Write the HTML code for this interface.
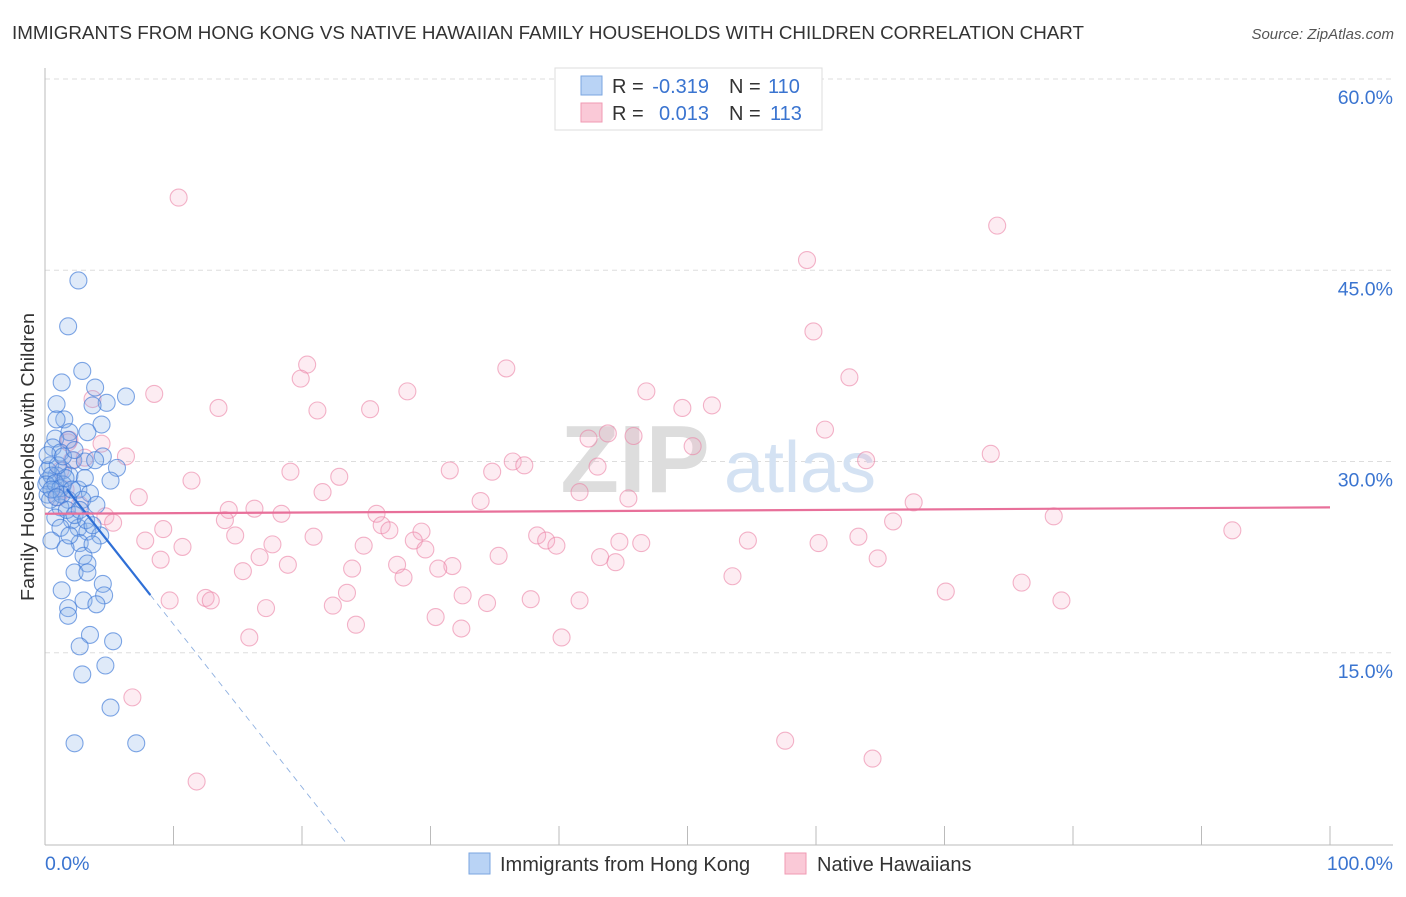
<!DOCTYPE html>
<html><head><meta charset="utf-8">
<style>
body{margin:0;background:#fff;font-family:"Liberation Sans",sans-serif;}
svg text{font-family:"Liberation Sans",sans-serif;}
</style></head><body>
<svg id="chart" width="1406" height="892" xmlns="http://www.w3.org/2000/svg">
<text x="12" y="39" font-size="18.7" fill="#333" textLength="1072" lengthAdjust="spacingAndGlyphs">IMMIGRANTS FROM HONG KONG VS NATIVE HAWAIIAN FAMILY HOUSEHOLDS WITH CHILDREN CORRELATION CHART</text>
<text x="1394" y="39" font-size="15" fill="#555" text-anchor="end" font-style="italic">Source: ZipAtlas.com</text>
<g id="grid"></g>
<g>
<text x="635" y="492" font-size="96" fill="#ddd" text-anchor="middle" font-family="Liberation Serif" font-weight="bold">ZIP</text>
<text x="800" y="492" font-size="72" fill="#d4e2f3" text-anchor="middle">atlas</text>
</g>
<g id="axes"></g>
<g id="pink"></g>
<g id="blue"></g>
<g id="trends"></g>
<text transform="translate(34,457) rotate(-90)" font-size="18" fill="#333" text-anchor="middle" textLength="288" lengthAdjust="spacingAndGlyphs">Family Households with Children</text>
<g>
<rect x="555" y="68" width="267" height="62" fill="#fff" stroke="#ddd"/>
<rect x="581" y="76" width="21" height="19" fill="#b9d3f5" stroke="#7aa6e0"/>
<rect x="581" y="103" width="21" height="19" fill="#fac9d7" stroke="#f09ab3"/>
<text x="612" y="93" font-size="20" fill="#333">R =</text>
<text x="709" y="93" font-size="20" fill="#3a74d0" text-anchor="end">-0.319</text>
<text x="729" y="93" font-size="20" fill="#333">N =</text>
<text x="768" y="93" font-size="20" fill="#3a74d0">110</text>
<text x="612" y="120" font-size="20" fill="#333">R =</text>
<text x="709" y="120" font-size="20" fill="#3a74d0" text-anchor="end">0.013</text>
<text x="729" y="120" font-size="20" fill="#333">N =</text>
<text x="770" y="120" font-size="20" fill="#3a74d0">113</text>
</g>
<g>
<rect x="469" y="853" width="21" height="21" fill="#b9d3f5" stroke="#7aa6e0"/>
<text x="500" y="871" font-size="20" fill="#333">Immigrants from Hong Kong</text>
<rect x="785" y="853" width="21" height="21" fill="#fac9d7" stroke="#f09ab3"/>
<text x="817" y="871" font-size="20" fill="#333">Native Hawaiians</text>
</g>
</svg>
<script>
const yTicks=[15,30,45,60];
const yTickLabels=["15.0%","30.0%","45.0%","60.0%"];
const xEndLabels=["0.0%","100.0%"];
const blueX=[2.6,1.8,2.9,1.3,3.9,6.3,4.8,0.9,3.7,1.5,0.9,4.4,1.9,3.3,0.8,1.8,0.6,1.2,4.5,2.2,3.1,5.6,0.4,1.4,0.9,1.9,0.2,5.1,1.4,2.6,0.8,3.5,0.2,2.9,1.8,4.0,1.2,0.8,2.1,2.6,1.2,3.3,4.3,0.5,2.7,1.6,3.0,3.3,2.3,3.3,4.5,1.3,4.6,3.0,4.0,1.8,1.8,3.5,5.3,2.7,4.7,2.9,5.1,2.3,7.1,0.2,0.5,0.1,0.8,1.2,1.6,1.0,0.4,1.3,2.1,1.7,2.3,2.7,3.2,3.7,1.9,3.7,0.2,0.5,0.9,1.4,2.3,3.9,3.1];
const blueY=[44.2,40.6,37.1,36.2,35.8,35.1,34.6,34.5,34.4,33.3,33.3,32.9,32.3,32.3,31.8,31.7,31.1,30.7,30.4,30.1,30.0,29.5,29.7,29.3,28.9,28.9,28.5,28.5,28.2,27.8,27.8,27.5,27.4,27.0,27.0,26.6,26.4,25.6,25.4,24.8,24.8,24.5,24.2,23.8,23.6,23.2,22.6,22.0,21.3,21.3,20.4,19.9,19.5,19.1,18.8,18.5,17.9,16.4,15.9,15.5,14.0,13.3,10.7,7.9,7.9,29.3,28.9,28.2,28.3,27.9,28.7,29.7,27.0,27.4,27.8,26.2,25.8,26.2,25.4,25.0,24.2,23.5,30.5,27.8,27.2,30.4,30.9,30.1,28.7];
const pinkX=[10.4,74.1,59.3,59.8,20.4,19.9,35.9,62.6,8.5,28.2,46.8,3.7,13.5,21.2,25.3,49.6,51.9,60.7,43.8,42.3,45.8,1.9,4.4,50.4,6.3,73.6,63.9,36.4,37.3,43.0,31.5,34.8,19.1,22.9,11.4,21.6,41.6,45.4,7.3,33.9,67.6,14.3,16.3,18.4,25.8,78.5,4.7,5.3,14.0,26.2,26.8,29.3,66.0,92.4,9.2,14.8,20.9,38.3,39.0,39.8,44.7,46.4,54.7,60.2,63.3,7.8,28.7,17.7,24.8,29.6,10.7,35.3,43.2,16.7,9.0,64.8,44.4,18.9,27.4,31.7,23.9,30.6,15.4,53.5,27.9,76.0,23.5,70.1,32.5,9.7,37.8,41.6,79.1,12.5,12.9,22.4,34.4,17.2,30.4,24.2,32.4,40.2,15.9,6.8,57.6,64.4,11.8,1.2,1.8,2.7,1.6,1.0,2.1,3.1];
const pinkY=[50.7,48.5,45.8,40.2,37.6,36.5,37.3,36.6,35.3,35.5,35.5,34.9,34.2,34.0,34.1,34.2,34.4,32.5,32.2,31.8,32.0,31.7,31.4,31.2,30.4,30.6,30.1,30.0,29.7,29.6,29.3,29.2,29.2,28.8,28.5,27.6,27.6,27.1,27.2,26.9,26.8,26.2,26.3,25.9,25.9,25.7,25.7,25.2,25.4,25.0,24.6,24.5,25.3,24.6,24.7,24.2,24.1,24.2,23.8,23.4,23.7,23.6,23.8,23.6,24.1,23.8,23.8,23.5,23.4,23.1,23.3,22.6,22.5,22.5,22.3,22.4,22.1,21.9,21.9,21.8,21.6,21.6,21.4,21.0,20.9,20.5,19.7,19.8,19.5,19.1,19.2,19.1,19.1,19.3,19.1,18.7,18.9,18.5,17.8,17.2,16.9,16.2,16.2,11.5,8.1,6.7,4.9,29.3,31.5,26.6,27.8,27.2,30.1,30.3];
const blueTrend=[30.0,-1.277];
const pinkTrend=[25.9,0.005];

const NS="http://www.w3.org/2000/svg";
const X=v=>45+v*12.85;
const Y=v=>844-v*12.75;
function mk(tag,parent,attrs){const e=document.createElementNS(NS,tag);for(const k in attrs)e.setAttribute(k,attrs[k]);document.getElementById(parent).appendChild(e);return e;}
yTicks.forEach((t,i)=>{
 const l=mk('line','grid',{x1:45,x2:1393,y1:Y(t),y2:Y(t),stroke:'#ddd','stroke-dasharray':'5,4'});
 
 
 const tx=mk('text','grid',{x:1393,y:Y(t)+25,'font-size':19.5,fill:'#3a74d0','text-anchor':'end'});
 tx.textContent=yTickLabels[i];
 
 
});
mk('line','axes',{x1:45,x2:45,y1:68,y2:845,stroke:'#bbb'});
mk('line','axes',{x1:45,x2:1393,y1:845,y2:845,stroke:'#bbb'});
for(let i=0;i<=10;i++){const t=mk('line','axes',{x1:X(i*10),x2:X(i*10),y1:826,y2:845,stroke:'#bbb'});
 
 }
const xl0=mk('text','axes',{x:45,y:870,'font-size':19.5,fill:'#3a74d0'});xl0.textContent=xEndLabels[0];

const xl1=mk('text','axes',{x:1393,y:870,'font-size':19.5,fill:'#3a74d0','text-anchor':'end'});xl1.textContent=xEndLabels[1];

pinkX.forEach((x,i)=>{const c=mk('circle','pink',{cx:X(x),cy:Y(pinkY[i]),r:8.5,fill:'rgba(246,170,195,0.22)',stroke:'rgba(235,130,165,0.6)','stroke-width':1.1});
 
 });
blueX.forEach((x,i)=>{const c=mk('circle','blue',{cx:X(x),cy:Y(blueY[i]),r:8.5,fill:'rgba(140,180,235,0.28)',stroke:'rgba(60,120,215,0.65)','stroke-width':1.1});
 
 });
const bx0=1.7,bx1=8.2,bxEnd=-blueTrend[0]/blueTrend[1];
const bf=x=>blueTrend[0]+blueTrend[1]*x;
const bl=mk('line','trends',{x1:X(bx0),y1:Y(bf(bx0)),x2:X(bx1),y2:Y(bf(bx1)),stroke:'#2f6fd6','stroke-width':2.2});

const bd=mk('line','trends',{x1:X(bx1),y1:Y(bf(bx1)),x2:X(bxEnd),y2:Y(0),stroke:'#8fb0e0','stroke-width':0.9,'stroke-dasharray':'6,5'});

const pf=x=>pinkTrend[0]+pinkTrend[1]*x;
const pl=mk('line','trends',{x1:X(0),y1:Y(pf(0)),x2:X(100),y2:Y(pf(100)),stroke:'#e8709a','stroke-width':2.2});

</script>
</body></html>
